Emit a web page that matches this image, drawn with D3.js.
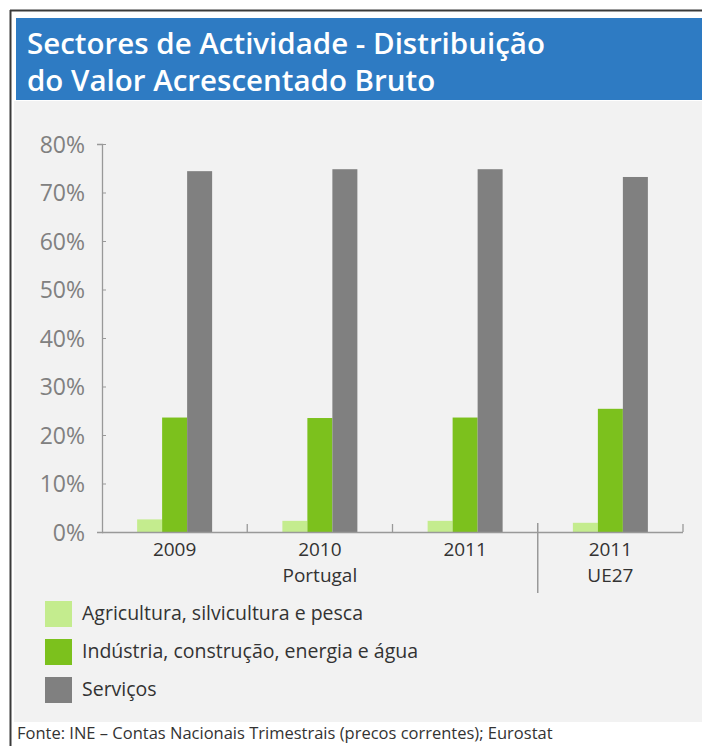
<!DOCTYPE html>
<html><head><meta charset="utf-8">
<script src="https://cdn.jsdelivr.net/npm/d3@7"></script>
<style>html,body{margin:0;padding:0;background:#fff;overflow:hidden}</style>
</head><body>
<script>
const categories = ["2009", "2010", "2011", "2011"];
const groupLabels = [{label: "Portugal", from: 0, to: 2}, {label: "UE27", from: 3, to: 3}];
const seriesNames = ["Agricultura, silvicultura e pesca", "Indústria, construção, energia e água", "Serviços"];
const agricultura = [2.6, 2.3, 2.3, 1.9];
const industria = [23.6, 23.5, 23.6, 25.4];
const servicos = [74.4, 74.8, 74.8, 73.2];
const yTicks = [0, 10, 20, 30, 40, 50, 60, 70, 80];
const colors = ["#c4ec8e", "#7cc11d", "#808080"];
const titleLines = ["Sectores de Actividade - Distribuição", "do Valor Acrescentado Bruto"];
const source = "Fonte: INE – Contas Nacionais Trimestrais (precos correntes); Eurostat";

const W = 702, H = 746;
const font = "'Open Sans', 'Noto Sans', sans-serif";
const svg = d3.select("body").append("svg").attr("width", W).attr("height", H);

// frame
svg.append("rect").attr("x", 0).attr("y", 0).attr("width", W).attr("height", H).attr("fill", "#fff");
svg.append("rect").attr("x", 14).attr("y", 101).attr("width", W - 14).attr("height", 621).attr("fill", "#f2f2f2");
svg.append("rect").attr("x", 16).attr("y", 18).attr("width", W - 16).attr("height", 82).attr("fill", "#2e7bc3");
svg.append("line").attr("x1", 10).attr("x2", W).attr("y1", 10.5).attr("y2", 10.5).attr("stroke", "#3a3a3a").attr("stroke-width", 2);
svg.append("line").attr("x1", 10.5).attr("x2", 10.5).attr("y1", 10).attr("y2", H).attr("stroke", "#3a3a3a").attr("stroke-width", 2);

svg.selectAll("text.title").data(titleLines).join("text").attr("class", "title")
  .attr("x", 27).attr("y", (d, i) => 54 + i * 37)
  .attr("fill", "#fff").attr("font-family", font).attr("font-weight", 600).attr("font-size", 29.5)
  .text(d => d);

// scales
const x0 = 102, x1 = 683, y0 = 532, yTop = 144;
const x = d3.scaleBand().domain(d3.range(categories.length)).range([x0, x1]).paddingInner(0).paddingOuter(0);
const y = d3.scaleLinear().domain([0, 80]).range([y0, yTop]);
const sub = d3.scaleBand().domain([0, 1, 2]).range([0, 75]);

// y axis
const yAxis = d3.axisLeft(y).tickValues(yTicks).tickFormat(d => d + "%").tickSize(5).tickPadding(12);
const gy = svg.append("g").attr("transform", `translate(${x0},0)`).call(yAxis);
gy.select(".domain").attr("stroke", "#999").attr("stroke-width", 1.3);
gy.selectAll(".tick line").attr("stroke", "#999").attr("x2", 4).attr("x1", 0);
gy.selectAll(".tick text").attr("fill", "#808080").attr("font-family", font).attr("font-size", 23).attr("dy", "0.36em");

// bars
const series = [agricultura, industria, servicos];
series.forEach((vals, s) => {
  svg.append("g").selectAll("rect").data(vals).join("rect")
    .attr("x", (d, i) => x(i) + x.bandwidth() / 2 - 37.5 + sub(s))
    .attr("width", sub.bandwidth())
    .attr("y", d => y(d))
    .attr("height", d => y0 - y(d))
    .attr("fill", colors[s]);
});

// x axis
const gx = svg.append("g");
gx.append("line").attr("x1", x0).attr("x2", x1).attr("y1", y0 + 0.5).attr("y2", y0 + 0.5).attr("stroke", "#999").attr("stroke-width", 1.5);
const bounds = d3.range(categories.length).map(i => x(i) + x.bandwidth());
gx.selectAll("line.tk").data(bounds.filter((d, i) => i !== 2)).join("line").attr("class", "tk")
  .attr("x1", d => d).attr("x2", d => d).attr("y1", y0).attr("y2", y0 - 8).attr("stroke", "#999").attr("stroke-width", 1.3);
// separator between groups
gx.append("line").attr("x1", bounds[2]).attr("x2", bounds[2]).attr("y1", y0 - 9).attr("y2", 593)
  .attr("stroke", "#999").attr("stroke-width", 1.5);

gx.selectAll("text.cat").data(categories).join("text").attr("class", "cat")
  .attr("x", (d, i) => x(i) + x.bandwidth() / 2).attr("y", 556)
  .attr("text-anchor", "middle").attr("fill", "#333").attr("font-family", font).attr("font-size", 19)
  .text(d => d);
gx.selectAll("text.grp").data(groupLabels).join("text").attr("class", "grp")
  .attr("x", d => (x(d.from) + x(d.to) + x.bandwidth()) / 2).attr("y", 582)
  .attr("text-anchor", "middle").attr("fill", "#333").attr("font-family", font).attr("font-size", 19)
  .text(d => d.label);

// legend
const lg = svg.append("g").selectAll("g").data(seriesNames).join("g")
  .attr("transform", (d, i) => `translate(45, ${601 + i * 38})`);
lg.append("rect").attr("width", 27).attr("height", 26).attr("fill", (d, i) => colors[i]);
lg.append("text").attr("x", 37).attr("y", 19).attr("fill", "#333").attr("font-family", font).attr("font-size", 19.5).text(d => d);

// source
svg.append("text").attr("x", 17).attr("y", 739).attr("fill", "#333").attr("font-family", font).attr("font-size", 16.5).text(source);
</script>
</body></html>
